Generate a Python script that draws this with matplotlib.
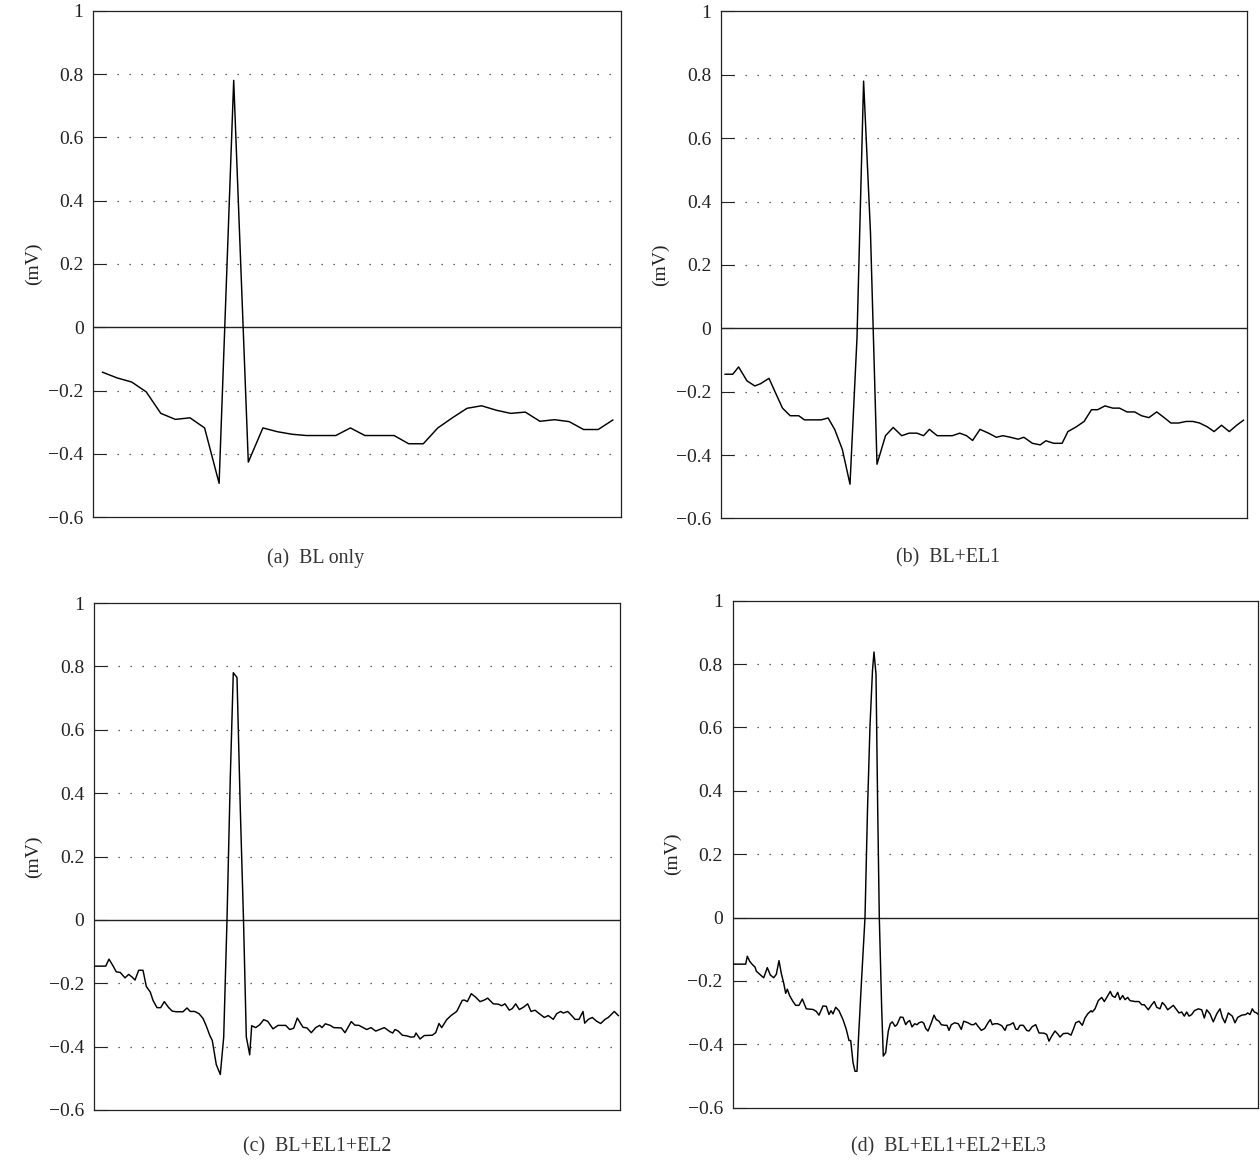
import numpy as np
import matplotlib
matplotlib.use("Agg")
import matplotlib.pyplot as plt

# ---------------- data ----------------
# time axis: sample positions (arbitrary time units), amplitude in mV
t_a = [9.2, 23.8, 38.4, 52.9, 67.5, 82.1, 96.7, 111.3, 125.8, 140.4, 155.0, 169.6,
       184.2, 198.7, 213.3, 227.9, 242.5, 257.1, 271.6, 286.2, 300.8, 315.4, 330.0,
       344.5, 359.1, 373.7, 388.3, 402.9, 417.4, 432.0, 446.6, 461.2, 475.8, 490.3,
       504.9, 519.5]
v_a = [-0.142, -0.160, -0.173, -0.204, -0.272, -0.291, -0.286, -0.318, -0.493, 0.78,
       -0.426, -0.318, -0.330, -0.338, -0.342, -0.342, -0.342, -0.318, -0.342, -0.342,
       -0.342, -0.368, -0.368, -0.318, -0.286, -0.256, -0.248, -0.262, -0.272, -0.268,
       -0.297, -0.292, -0.298, -0.323, -0.323, -0.293]

t_b = [4.1, 11.8, 17.6, 26.0, 33.8, 39.5, 48.0, 54.7, 61.5, 69.2, 77.7, 83.4, 91.9,
       100.3, 107.1, 113.8, 121.3, 129.0, 136.0, 142.6, 149.5, 156.0, 164.5, 172.2,
       180.7, 188.1, 195.9, 202.6, 208.4, 216.2, 223.6, 231.4, 238.8, 245.5, 251.6,
       259.0, 267.5, 275.3, 282.0, 289.4, 297.2, 302.9, 311.4, 319.2, 324.9, 332.7,
       341.1, 346.9, 355.3, 363.1, 370.5, 376.6, 384.0, 391.8, 398.5, 406.0, 413.7,
       420.5, 427.9, 435.7, 442.4, 449.9, 457.6, 465.1, 471.8, 478.6, 486.3, 493.1,
       500.5, 508.3, 515.7, 522.5]
v_b = [-0.145, -0.145, -0.122, -0.166, -0.182, -0.175, -0.158, -0.205, -0.252, -0.276,
       -0.276, -0.289, -0.289, -0.289, -0.283, -0.320, -0.382, -0.492, -0.03, 0.78,
       0.30, -0.429, -0.339, -0.313, -0.339, -0.331, -0.331, -0.339, -0.319, -0.339,
       -0.339, -0.339, -0.331, -0.339, -0.354, -0.319, -0.331, -0.344, -0.339, -0.344,
       -0.350, -0.344, -0.363, -0.368, -0.355, -0.363, -0.363, -0.326, -0.311, -0.294,
       -0.257, -0.257, -0.245, -0.252, -0.252, -0.264, -0.264, -0.276, -0.282, -0.264,
       -0.280, -0.299, -0.299, -0.294, -0.294, -0.299, -0.311, -0.326, -0.306, -0.326,
       -0.306, -0.290]

t_c = [1.3, 11.7, 15.0, 19.0, 22.3, 26.3, 31.0, 34.7, 38.3, 41.0, 44.7, 49.0, 52.3,
       56.3, 59.0, 63.0, 66.7, 70.3, 74.7, 78.3, 82.3, 89.0, 93.0, 96.3, 100.7, 105.0,
       109.0, 112.3, 115.7, 118.3, 122.3, 126.3, 129.7, 133.0, 136.3, 139.3, 143.0,
       146.3, 149.5, 152.3, 155.7, 157.7, 161.7, 165.7, 169.7, 173.7, 179.0, 184.0,
       191.7, 195.7, 199.7, 203.3, 209.0, 213.0, 217.3, 221.7, 225.7, 228.0, 231.3,
       236.3, 239.7, 247.3, 251.0, 257.3, 260.7, 265.0, 272.7, 277.0, 281.7, 290.3,
       296.0, 298.7, 301.0, 304.3, 308.3, 312.7, 317.0, 320.3, 322.0, 326.0, 330.3,
       338.3, 341.7, 345.0, 347.7, 352.7, 357.0, 362.7, 368.3, 370.3, 373.3, 377.3,
       381.7, 386.0, 390.3, 393.7, 399.3, 404.3, 407.7, 411.0, 415.3, 418.3, 421.7,
       425.3, 429.3, 433.7, 437.0, 441.0, 445.3, 450.3, 454.3, 459.3, 462.7, 466.7,
       469.3, 473.7, 477.7, 481.0, 485.0, 489.0, 490.7, 494.3, 498.3, 502.7, 506.7,
       511.0, 514.3, 520.3, 524.3]
v_c = [-0.146, -0.146, -0.124, -0.145, -0.164, -0.166, -0.183, -0.172, -0.181, -0.190,
       -0.159, -0.159, -0.210, -0.228, -0.254, -0.277, -0.277, -0.258, -0.277, -0.288,
       -0.290, -0.290, -0.278, -0.289, -0.289, -0.296, -0.311, -0.335, -0.364, -0.381,
       -0.457, -0.488, -0.370, 0.0, 0.45, 0.78, 0.765, 0.35, 0.0, -0.369, -0.426,
       -0.334, -0.340, -0.331, -0.315, -0.320, -0.344, -0.333, -0.333, -0.346, -0.342,
       -0.310, -0.339, -0.341, -0.356, -0.340, -0.333, -0.340, -0.328, -0.333, -0.340,
       -0.341, -0.356, -0.321, -0.332, -0.333, -0.346, -0.340, -0.351, -0.340, -0.353,
       -0.357, -0.346, -0.351, -0.364, -0.366, -0.370, -0.369, -0.357, -0.376, -0.365,
       -0.364, -0.356, -0.327, -0.340, -0.315, -0.302, -0.289, -0.254, -0.253, -0.258,
       -0.233, -0.244, -0.258, -0.253, -0.247, -0.265, -0.266, -0.271, -0.265, -0.285,
       -0.280, -0.265, -0.283, -0.276, -0.265, -0.289, -0.285, -0.296, -0.308, -0.302,
       -0.314, -0.296, -0.289, -0.294, -0.289, -0.302, -0.314, -0.314, -0.289, -0.326,
       -0.314, -0.308, -0.320, -0.327, -0.314, -0.308, -0.289, -0.302]

t_d = [0.5, 13.2, 14.8, 17.2, 19.8, 22.5, 23.8, 27.2, 31.2, 34.8, 37.8, 41.2, 43.8,
       46.5, 48.8, 51.2, 53.2, 54.8, 57.2, 60.5, 63.2, 66.5, 69.8, 73.8, 80.5, 83.8,
       86.5, 90.5, 93.8, 96.5, 98.5, 100.5, 103.2, 106.5, 110.5, 113.8, 116.5, 118.2,
       120.5, 122.5, 124.5, 126.0, 129.0, 132.5, 135.0, 137.5, 140.0, 141.5, 143.5,
       145.2, 146.8, 149.2, 150.8, 153.2, 154.5, 155.8, 157.8, 159.8, 162.5, 164.5,
       167.8, 170.5, 173.2, 175.2, 177.2, 179.5, 182.2, 184.5, 186.5, 189.2, 191.2,
       193.2, 195.5, 198.5, 201.5, 203.8, 206.5, 208.8, 212.2, 214.5, 216.5, 218.8,
       222.2, 225.8, 228.8, 231.2, 235.5, 238.8, 241.2, 243.2, 245.5, 248.8, 252.2,
       255.5, 257.8, 259.8, 262.2, 265.2, 269.2, 272.5, 274.5, 277.5, 280.8, 283.2,
       285.2, 287.5, 290.8, 294.2, 296.5, 299.8, 303.2, 306.5, 311.8, 314.2, 316.5,
       319.2, 322.5, 325.2, 327.5, 330.8, 335.2, 338.5, 340.8, 343.2, 346.5, 349.8,
       352.5, 355.2, 358.5, 359.8, 362.5, 365.8, 369.2, 371.8, 375.2, 377.8, 379.8,
       382.5, 385.2, 387.5, 390.2, 392.5, 395.2, 397.5, 402.5, 406.5, 409.2, 411.8,
       415.8, 419.2, 421.8, 424.2, 427.5, 429.8, 432.5, 435.2, 438.5, 440.8, 444.2,
       446.5, 449.2, 451.8, 454.2, 456.5, 459.2, 461.8, 465.8, 469.2, 471.8, 474.2,
       477.5, 480.8, 484.2, 487.5, 489.8, 492.5, 495.8, 499.8, 502.5, 505.2, 509.2,
       513.2, 515.2, 517.5, 519.8, 521.8, 524.2, 525.8]
v_d = [-0.147, -0.147, -0.122, -0.138, -0.148, -0.156, -0.169, -0.179, -0.190, -0.158,
       -0.181, -0.190, -0.179, -0.136, -0.176, -0.207, -0.239, -0.226, -0.247, -0.265,
       -0.277, -0.277, -0.257, -0.288, -0.290, -0.296, -0.308, -0.279, -0.280, -0.306,
       -0.294, -0.304, -0.283, -0.294, -0.322, -0.353, -0.388, -0.388, -0.457, -0.485,
       -0.485, -0.380, -0.200, 0.0, 0.34, 0.605, 0.78, 0.838, 0.768, 0.342, 0.0, -0.289,
       -0.437, -0.426, -0.390, -0.358, -0.335, -0.329, -0.343, -0.338, -0.314, -0.315,
       -0.338, -0.329, -0.325, -0.345, -0.335, -0.338, -0.332, -0.329, -0.333, -0.350,
       -0.358, -0.335, -0.308, -0.322, -0.327, -0.338, -0.340, -0.340, -0.356, -0.338,
       -0.332, -0.335, -0.353, -0.327, -0.332, -0.338, -0.338, -0.333, -0.343, -0.356,
       -0.350, -0.332, -0.322, -0.338, -0.335, -0.335, -0.341, -0.356, -0.340, -0.338,
       -0.332, -0.352, -0.353, -0.340, -0.340, -0.356, -0.358, -0.344, -0.338, -0.364,
       -0.365, -0.369, -0.390, -0.374, -0.358, -0.367, -0.377, -0.366, -0.365, -0.371,
       -0.353, -0.332, -0.327, -0.340, -0.317, -0.304, -0.294, -0.298, -0.288, -0.262,
       -0.252, -0.265, -0.247, -0.233, -0.247, -0.252, -0.236, -0.259, -0.246, -0.259,
       -0.252, -0.262, -0.265, -0.265, -0.275, -0.275, -0.291, -0.275, -0.265, -0.283,
       -0.288, -0.268, -0.277, -0.291, -0.283, -0.277, -0.291, -0.301, -0.298, -0.311,
       -0.298, -0.311, -0.306, -0.294, -0.288, -0.291, -0.317, -0.291, -0.304, -0.329,
       -0.304, -0.288, -0.315, -0.332, -0.301, -0.311, -0.332, -0.315, -0.308, -0.306,
       -0.301, -0.306, -0.288, -0.298, -0.301, -0.306]

captions = ["(a)  BL only", "(b)  BL+EL1", "(c)  BL+EL1+EL2", "(d)  BL+EL1+EL2+EL3"]
y_ticks = [-0.6, -0.4, -0.2, 0, 0.2, 0.4, 0.6, 0.8, 1]
y_tick_labels = ["\u22120.6", "\u22120.4", "\u22120.2", "0", "0.2", "0.4", "0.6", "0.8", "1"]
dotted_levels = [-0.4, -0.2, 0.2, 0.4, 0.6, 0.8]
y_label = "(mV)"

# ---------------- layout ----------------
plt.rcParams["font.family"] = ["Liberation Serif", "DejaVu Serif"]
W, H = 1260, 1160
fig = plt.figure(figsize=(W / 100, H / 100), dpi=100)

# axes boxes in pixels: left, right, top, bottom
boxes = [(93.3, 620.5, 10.7, 517.2),
         (721.0, 1247.0, 11.4, 518.4),
         (94.0, 620.0, 603.0, 1110.0),
         (732.5, 1258.0, 600.7, 1107.7)]
caption_pos = [(316, 558), (948, 558), (317, 1147), (948, 1147)]
series = [(t_a, v_a), (t_b, v_b), (t_c, v_c), (t_d, v_d)]

for i, ((l, r, t, b), (tx, vy)) in enumerate(zip(boxes, series)):
    ax = fig.add_axes([l / W, 1 - b / H, (r - l) / W, (b - t) / H])
    ax.set_xlim(0, r - l)
    ax.set_ylim(-0.6, 1.0)
    for lev in dotted_levels:
        ax.axhline(lev, color="#333333", lw=0.9, ls=(0, (1, 8.6)), zorder=1)
    ax.axhline(0, color="#222222", lw=1.0, zorder=2)
    ax.plot(tx, vy, color="black", lw=1.05, zorder=3)
    ax.set_yticks(y_ticks)
    ax.set_yticklabels(y_tick_labels)
    ax.set_xticks([])
    ax.tick_params(axis="y", direction="in", length=9.6, width=0.8, pad=7,
                   labelsize=14, colors="#222222")
    for s in ax.spines.values():
        s.set_linewidth(0.9)
        s.set_color("#222222")
    ax.set_ylabel(y_label, fontsize=14, color="#222222")
    ax.yaxis.set_label_coords(-0.098, 0.5)
    cx, cy = caption_pos[i]
    fig.text(cx / W, 1 - cy / H, captions[i], ha="center", va="center",
             fontsize=14.3, color="#333333")

fig.savefig("out.png", dpi=100)
